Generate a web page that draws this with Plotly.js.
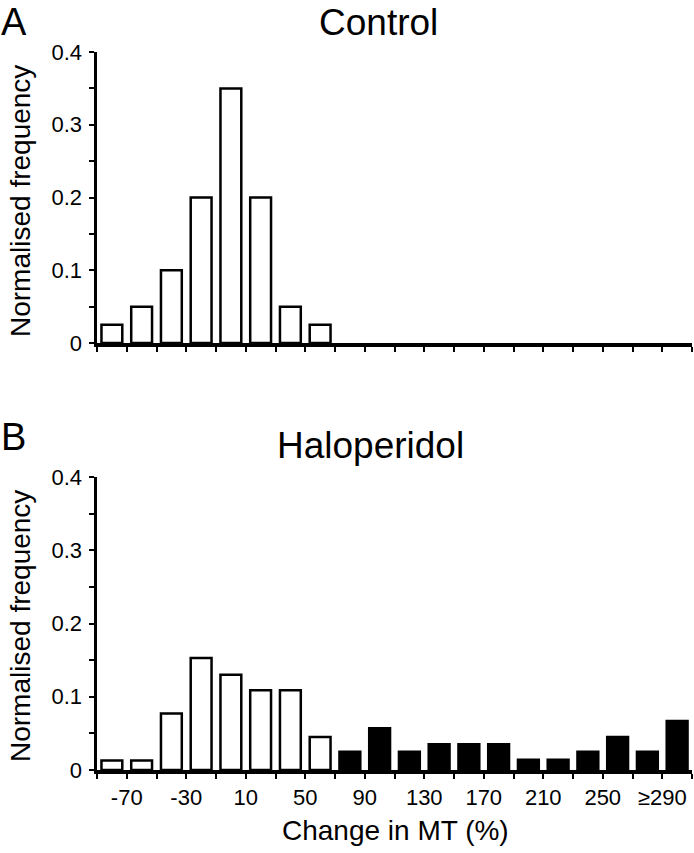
<!DOCTYPE html>
<html>
<head>
<meta charset="utf-8">
<script src="https://cdn.plot.ly/plotly-3.0.1.min.js"></script>
<style>
  html, body { margin: 0; padding: 0; background: #fff; }
  #chart { width: 694px; height: 853px; }
</style>
</head>
<body>
<div id="chart"></div>
<script>
// Bin centres of "Change in MT (%)" (bins 20% wide, from -90 to 310)
const binCenters = [-80, -60, -40, -20, 0, 20, 40, 60, 80, 100, 120, 140, 160, 180, 200, 220, 240, 260, 280, 300];
// Normalised frequency, Control (panel A)
const controlFreq = [0.025, 0.05, 0.10, 0.20, 0.35, 0.20, 0.05, 0.025, 0, 0, 0, 0, 0, 0, 0, 0, 0, 0, 0, 0];
// Normalised frequency, Haloperidol (panel B)
const haloFreq = [0.013, 0.013, 0.077, 0.153, 0.130, 0.109, 0.109, 0.045, 0.025, 0.057, 0.025, 0.035, 0.035, 0.035, 0.014, 0.014, 0.025, 0.045, 0.025, 0.067];
// x tick labels
const xTickVals = [-70, -30, 10, 50, 90, 130, 170, 210, 250, 290];
const xTickText = ['-70', '-30', '10', '50', '90', '130', '170', '210', '250', '\u2265290'];
const panelTitles = ['Control', 'Haloperidol'];
const panelLetters = ['A', 'B'];
const xTitle = 'Change in MT (%)';
const yTitle = 'Normalised frequency';

const W = 694, H = 853;
const FONT = 'Liberation Sans, Arial, Helvetica, sans-serif';
const openThreshold = 70; // bins above this are drawn filled in panel B
const barLine = { color: '#000', width: 2.5 };
const noZero = arr => arr.map(v => v === 0 ? null : v);

const traces = [
  { type: 'bar', x: binCenters, y: noZero(controlFreq), width: 14, xaxis: 'x', yaxis: 'y',
    marker: { color: '#fff', line: barLine }, showlegend: false },
  { type: 'bar', x: binCenters, y: noZero(haloFreq), width: 14, xaxis: 'x2', yaxis: 'y2',
    marker: { color: binCenters.map(c => c > openThreshold ? '#000' : '#fff'), line: barLine }, showlegend: false }
];

function xAxis(showLabels, anchor) {
  return {
    anchor: anchor, domain: [97 / W, 692 / W], range: [-90, 310],
    showgrid: false, zeroline: false, showline: true, linecolor: '#000', linewidth: 3.5,
    tickmode: 'array', tickvals: xTickVals, ticktext: xTickText,
    ticks: 'outside', ticklen: 5, tickwidth: 2, tickcolor: '#000',
    showticklabels: showLabels, tickfont: { family: FONT, size: 22, color: '#000' },
    ticklabelstandoff: 0,
    minor: { tick0: -90, dtick: 20, ticks: 'outside', ticklen: 5, tickwidth: 2, tickcolor: '#000', showgrid: false }
  };
}
function yAxis(domain, anchor) {
  return {
    anchor: anchor, domain: domain, range: [0, 0.4],
    showgrid: false, zeroline: false, showline: true, linecolor: '#000', linewidth: 3.5,
    tickmode: 'linear', tick0: 0, dtick: 0.1,
    ticks: 'outside', ticklen: 5, tickwidth: 2, tickcolor: '#000',
    tickfont: { family: FONT, size: 22, color: '#000' }, ticklabelstandoff: 2,
    minor: { tick0: 0, dtick: 0.05, ticks: 'outside', ticklen: 5, tickwidth: 2, tickcolor: '#000', showgrid: false }
  };
}

const annotations = [
  { text: panelLetters[0], x: 0, y: 0, xanchor: 'left', yanchor: 'top', size: 38 },
  { text: panelLetters[1], x: 0, y: 437, xanchor: 'left', size: 38 },
  { text: panelTitles[0], x: 378, y: 22, xanchor: 'center', size: 37 },
  { text: panelTitles[1], x: 370, y: 445, xanchor: 'center', size: 37 },
  { text: yTitle, x: 20, y: 201, xanchor: 'center', size: 28, textangle: -90 },
  { text: yTitle, x: 20, y: 626, xanchor: 'center', size: 28, textangle: -90 },
  { text: xTitle, x: 395, y: 830, xanchor: 'center', size: 28 }
].map(a => ({
  text: a.text, x: a.x / W, y: 1 - a.y / H, xref: 'paper', yref: 'paper',
  xanchor: a.xanchor, yanchor: a.yanchor || 'middle', textangle: a.textangle || 0,
  borderpad: 0, showarrow: false, font: { family: FONT, size: a.size, color: '#000' }
}));

const layout = {
  width: W, height: H, margin: { l: 0, r: 0, t: 0, b: 0 },
  paper_bgcolor: '#fff', plot_bgcolor: '#fff', bargap: 0,
  xaxis: xAxis(false, 'y'), yaxis: yAxis([(H - 343) / H, (H - 52) / H], 'x'),
  xaxis2: xAxis(true, 'y2'), yaxis2: yAxis([(H - 770) / H, (H - 477) / H], 'x2'),
  annotations: annotations,
  font: { family: FONT, color: '#000' }
};

Plotly.newPlot('chart', traces, layout, { staticPlot: true, displayModeBar: false });
</script>
</body>
</html>
